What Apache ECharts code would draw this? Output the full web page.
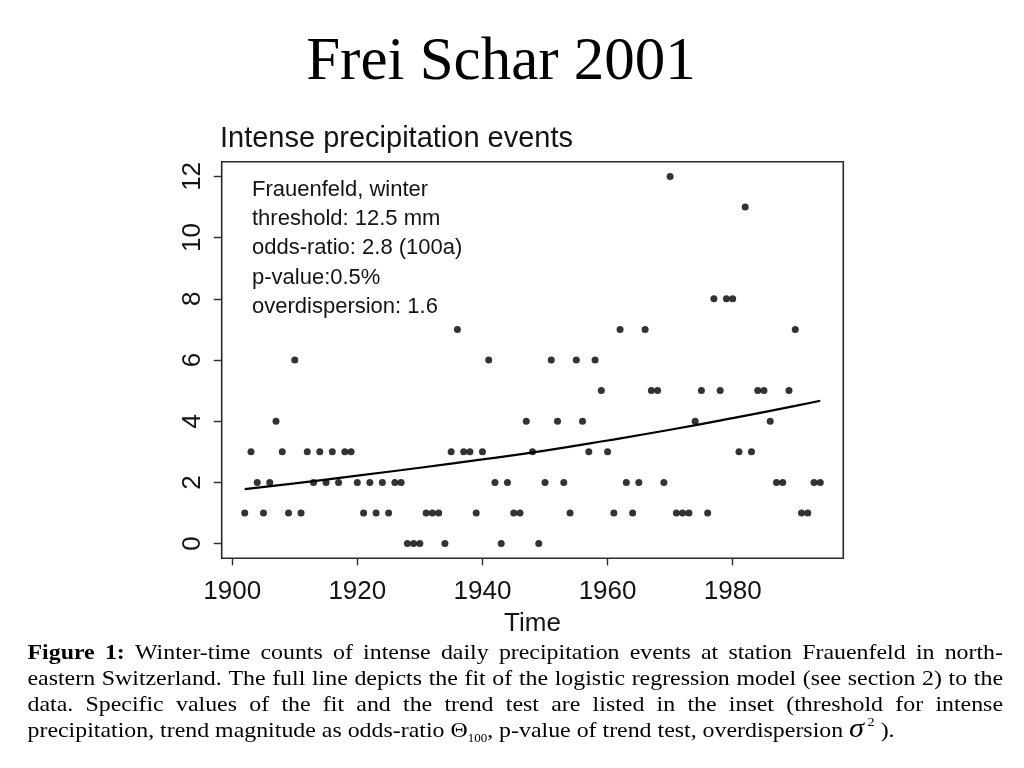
<!DOCTYPE html>
<html><head><meta charset="utf-8">
<script src="https://cdn.jsdelivr.net/npm/echarts@6/dist/echarts.min.js"></script>
<style>html,body{margin:0;padding:0;background:#fff}#c{width:1024px;height:768px}</style>
</head><body><div id="c"></div>
<script>
// ---- data ----
const years = [1902,1903,1904,1905,1906,1907,1908,1909,1910,1911,1912,1913,1914,1915,1916,1917,1918,1919,1920,
  1921,1922,1923,1924,1925,1926,1927,1928,1929,1930,1931,1932,1933,1934,1935,1936,1937,1938,1939,1940,
  1941,1942,1943,1944,1945,1946,1947,1948,1949,1950,1951,1952,1953,1954,1955,1956,1957,1958,1959,1960,
  1961,1962,1963,1964,1965,1966,1967,1968,1969,1970,1971,1972,1973,1974,1975,1976,1977,1978,1979,1980,
  1981,1982,1983,1984,1985,1986,1987,1988,1989,1990,1991,1992,1993,1994];
const counts = [1,3,2,1,2,4,3,1,6,1,3,2,3,2,3,2,3,3,2,
  1,2,1,2,1,2,2,0,0,0,1,1,1,0,3,7,3,3,1,3,
  6,2,0,2,1,1,4,3,0,2,6,4,2,1,6,4,3,6,5,3,
  1,7,2,1,2,7,5,5,2,12,1,1,1,4,5,1,8,5,8,8,
  3,11,3,5,5,4,2,2,5,7,1,1,2,2];
const fitYears = [1902,1910,1920,1930,1940,1950,1960,1970,1980,1990,1994];
const fitValues = [1.78,1.97,2.22,2.48,2.75,3.04,3.37,3.72,4.10,4.50,4.67];
const xTickValues = [1900,1920,1940,1960,1980];
const yTickValues = [0,2,4,6,8,10,12];
const pageTitle = 'Frei Schar 2001';
const chartTitle = 'Intense precipitation events';
const xAxisName = 'Time';
const insetLines = ['Frauenfeld, winter','threshold: 12.5 mm','odds-ratio: 2.8 (100a)','p-value:0.5%','overdispersion: 1.6'];
const captionLines = [
  'Figure 1: Winter-time counts of intense daily precipitation events at station Frauenfeld in north-',
  'eastern Switzerland. The full line depicts the fit of the logistic regression model (see section 2) to the',
  'data. Specific values of the fit and the trend test are listed in the inset (threshold for intense',
  'precipitation, trend magnitude as odds-ratio \u0398_100, p-value of trend test, overdispersion \u03c3^2 ).'
];

// ---- layout ----
const GRID = {left:221.7, top:161.7, right:1024-843.3, bottom:768-558.3};
const TXT = '#141414';
const SERIF = '"Liberation Serif","Times New Roman",serif';
const SANS = '"Liberation Sans",Arial,Helvetica,sans-serif';

const mctx = document.createElement('canvas').getContext('2d');
function fontStr(s){ return (s.italic?'italic ':'') + (s.bold?'bold ':'') + s.size + 'px ' + SERIF; }
const CAP_SIZE = 22, CAP_SX = 1.085;
function measure(s){ mctx.font = fontStr(s); return mctx.measureText(s.text).width * CAP_SX; }
function wordSegments(word, li, wi){
  if (li === 0 && wi < 2) return [{text:word, bold:true, size:CAP_SIZE, dy:0}];
  if (word.indexOf('_') >= 0){
    const parts = word.split('_'); const m = parts[1].match(/^(\d+)(.*)$/);
    return [{text:parts[0], size:CAP_SIZE, dy:0},{text:m[1], size:12, dy:3.5},{text:m[2], size:CAP_SIZE, dy:0}];
  }
  if (word.indexOf('^') >= 0){
    const parts = word.split('^');
    return [{text:parts[0], size:28, italic:true, dy:0},{text:' ' + parts[1], size:13, dy:-12}];
  }
  return [{text:word, size:CAP_SIZE, dy:0}];
}
const graphics = [];
graphics.push({type:'text', x:501, y:83.3 - 0.34*61, silent:true,
  style:{text:pageTitle, font:'61px ' + SERIF, fill:'#000', textAlign:'center', textVerticalAlign:'middle'}});
const insetY = [189.5, 218.5, 248, 277.5, 307];
insetLines.forEach((t,i)=>{
  graphics.push({type:'text', x:252, y:insetY[i], silent:true,
    style:{text:t, font:'22px ' + SANS, fill:TXT, textAlign:'left', textVerticalAlign:'middle'}});
});
const CAP_LEFT = 27.5, CAP_RIGHT = 1003, capBase = [661, 687, 713, 739];
captionLines.forEach((line, li)=>{
  const words = line.split(' ');
  const segs = words.map((w,wi)=>wordSegments(w, li, wi));
  const widths = segs.map(ss=>ss.reduce((a,s)=>a+measure(s),0));
  const total = widths.reduce((a,b)=>a+b,0);
  const spaceW = measure({text:' ', size:CAP_SIZE});
  const justify = li < captionLines.length - 1;
  const gap = justify ? (CAP_RIGHT - CAP_LEFT - total)/(words.length - 1) : spaceW;
  let x = CAP_LEFT;
  segs.forEach((ss, wi)=>{
    ss.forEach(s=>{
      const w = measure(s);
      if (s.text.length){
        graphics.push({type:'text', x:x, y:capBase[li] + s.dy - 0.34*s.size, scaleX:CAP_SX, silent:true,
          style:{text:s.text, font:fontStr(s), fill:'#000', textAlign:'left', textVerticalAlign:'middle'}});
      }
      x += w;
    });
    x += gap;
  });
});

const chart = echarts.init(document.getElementById('c'), null, {renderer:'canvas'});
chart.setOption({
  animation:false,
  backgroundColor:'#fff',
  title:{text:chartTitle, left:220, top:124, padding:0,
    textStyle:{fontFamily:SANS, fontSize:29, fontWeight:'normal', color:TXT}},
  grid:{left:GRID.left, top:GRID.top, right:GRID.right, bottom:GRID.bottom, show:true,
    borderColor:'#2a2a2a', borderWidth:1.6, backgroundColor:'transparent'},
  xAxis:{type:'value', min:1898.32, max:1997.68,
    name:xAxisName, nameLocation:'middle', nameGap:53,
    nameTextStyle:{fontFamily:SANS, fontSize:26, color:TXT},
    axisLine:{show:false, onZero:false}, splitLine:{show:false},
    axisTick:{show:true, length:7, customValues:xTickValues, lineStyle:{color:'#2a2a2a', width:1.4}},
    axisLabel:{customValues:xTickValues, fontFamily:SANS, fontSize:26, color:TXT, margin:21,
      formatter:v=>String(Math.round(v))}},
  yAxis:{type:'value', min:-0.48, max:12.48,
    axisLine:{show:false, onZero:false}, splitLine:{show:false},
    axisTick:{show:true, length:8, customValues:yTickValues, lineStyle:{color:'#2a2a2a', width:1.4}},
    axisLabel:{customValues:yTickValues, rotate:90, fontFamily:SANS, fontSize:26, color:TXT, margin:16,
      formatter:v=>String(Math.round(v))}},
  series:[
    {type:'scatter', data:years.map((y,i)=>[y, counts[i]]), symbol:'circle', symbolSize:7,
      itemStyle:{color:'#000'}, silent:true},
    {type:'line', data:fitYears.map((y,i)=>[y, fitValues[i]]), smooth:true, showSymbol:false,
      lineStyle:{color:'#000', width:2.2}, silent:true}
  ],
  graphic:{elements:graphics}
});
</script></body></html>
